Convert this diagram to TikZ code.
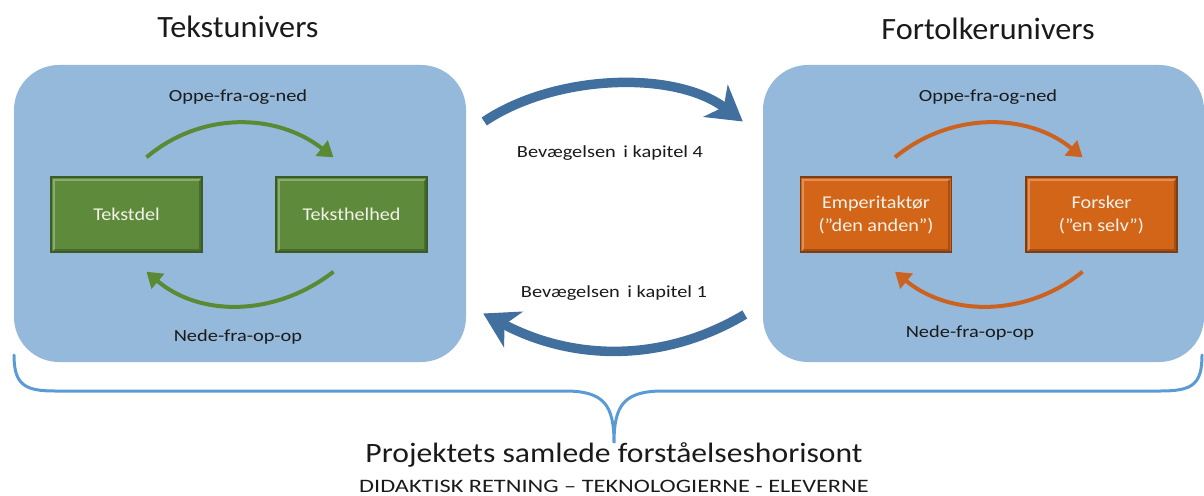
\documentclass[tikz,border=0pt]{standalone}
\usepackage{fontspec}
\setmainfont{Carlito}
\newfontfamily\titlefont{Carlito}[FakeStretch=1.04]
\newfontfamily\labelfont{Carlito}[FakeStretch=1.2]
\newfontfamily\boxfont{Carlito}[FakeStretch=1.12]
\newfontfamily\horizonfont{Carlito}[FakeStretch=1.13]
\newfontfamily\capsfont{Carlito}[FakeStretch=1.28]
\usetikzlibrary{arrows.meta}

\definecolor{panelblue}{HTML}{95B9DA}
\definecolor{leaf}{HTML}{5E8B3B}
\definecolor{leafedge}{HTML}{3C5C27}
\definecolor{leafarrow}{HTML}{5A8A34}
\definecolor{rust}{HTML}{D36518}
\definecolor{rustedge}{HTML}{7F3E12}
\definecolor{rustarrow}{HTML}{CC6220}
\definecolor{flowblue}{HTML}{41709F}
\definecolor{braceblue}{HTML}{5B9BD5}
\definecolor{boxtext}{HTML}{F2F2EA}
\definecolor{ink}{HTML}{1A1A1A}

\tikzset{
  panel/.style={rectangle, rounded corners=45pt, fill=panelblue, draw=none},
  bevel/.style={path picture={
    \draw[white, opacity=0.28, line width=2pt]
      ([shift={(2.5pt,2.5pt)}]path picture bounding box.south west)
      |- ([shift={(-2.5pt,-2.5pt)}]path picture bounding box.north east);
    \draw[black, opacity=0.22, line width=2pt]
      ([shift={(2.5pt,2.5pt)}]path picture bounding box.south west)
      -| ([shift={(-2.5pt,-2.5pt)}]path picture bounding box.north east);}},
  greenbox/.style={rectangle, fill=leaf, draw=leafedge, line width=1.4pt, bevel,
    minimum width=151pt, minimum height=75pt, text=boxtext,
    font=\boxfont\fontsize{18}{21}\selectfont},
  orangebox/.style={rectangle, fill=rust, draw=rustedge, line width=1.4pt, bevel,
    minimum width=151pt, minimum height=75pt, text=boxtext, align=center,
    font=\boxfont\fontsize{18}{23}\selectfont},
  title/.style={text=ink, font=\titlefont\fontsize{31}{34}\selectfont},
  label/.style={text=ink, font=\labelfont\fontsize{17}{20}\selectfont},
  greenflow/.style={draw=leafarrow, line width=4pt, -{Triangle[length=15pt,width=19pt]}},
  orangeflow/.style={draw=rustarrow, line width=4pt, -{Triangle[length=15pt,width=19pt]}},
  bigflow/.style={draw=flowblue, line width=9.5pt, -{Stealth[length=34pt,width=40pt,inset=10pt]}},
}

\begin{document}
\begin{tikzpicture}[x=1pt,y=-1pt]
\useasboundingbox (0,0) rectangle (1204,495);

% the two universes
\node[panel, minimum width=452pt, minimum height=297pt] (left) at (240,213.5) {};
\node[panel, minimum width=441pt, minimum height=297pt] (right) at (983.5,213.5) {};

\node[title] (lefttitle) at (238,27) {Tekstunivers};
\node[title] (righttitle) at (988,29) {Fortolkerunivers};

% text universe
\node[greenbox] (del) at (126.5,214.5) {Tekstdel};
\node[greenbox] (hel) at (351.5,214.5) {Teksthelhed};
\node[label] (ltop) at (238,97) {Oppe-fra-og-ned};
\node[label] (lbot) at (238,337) {Nede-fra-op-op};

\coordinate (delN) at ([shift={(20pt,19pt)}]del.north);
\coordinate (helN) at ([shift={(-18pt,19pt)}]hel.north);
\coordinate (delS) at ([shift={(20pt,-19pt)}]del.south);
\coordinate (helS) at ([shift={(-18pt,-19pt)}]hel.south);
\draw[greenflow] (delN) .. controls (200,112) and (275,112) .. (helN);
\draw[greenflow] (helS) .. controls (275,317) and (200,317) .. (delS);

% interpreter universe
\node[orangebox] (emp) at (876,214.5) {Emperitaktør\\(”den anden”)};
\node[orangebox] (fors) at (1101.5,214.5) {Forsker\\(”en selv”)};
\node[label] (rtop) at (988,97) {Oppe-fra-og-ned};
\node[label] (rbot) at (970,333) {Nede-fra-op-op};

\coordinate (empN) at ([shift={(19pt,19pt)}]emp.north);
\coordinate (forsN) at ([shift={(-19pt,19pt)}]fors.north);
\coordinate (empS) at ([shift={(19pt,-19pt)}]emp.south);
\coordinate (forsS) at ([shift={(-19pt,-19pt)}]fors.south);
\draw[orangeflow] (empN) .. controls (950,112) and (1027,112) .. (forsN);
\draw[orangeflow] (forsS) .. controls (1027,317) and (950,317) .. (empS);

% movement between the universes
\coordinate (upA) at ([shift={(18pt,92pt)}]left.east);
\coordinate (upB) at ([shift={(-20pt,92pt)}]right.west);
\coordinate (dnA) at ([shift={(-18pt,-101pt)}]right.west);
\coordinate (dnB) at ([shift={(17pt,-100pt)}]left.east);
\draw[bigflow] (upA) .. controls (555,74) and (675,70) .. (upB);
\draw[bigflow] (dnA) .. controls (665,362) and (575,362) .. (dnB);
\node[label] (ch4) at (610,153) {Bevægelsen\, i kapitel 4};
\node[label] (ch1) at (614,293) {Bevægelsen\, i kapitel 1};

% overall horizon brace
\draw[braceblue, line width=3pt, line cap=round]
  (14,355) .. controls (14,385) and (25,391) .. (55,391)
  -- (565,391) .. controls (604,391) and (614,405) .. (614,443)
  .. controls (614,405) and (624,391) .. (663,391)
  -- (1160,391) .. controls (1192,391) and (1202,385) .. (1202,355);

\node[text=ink, font=\horizonfont\fontsize{28}{30}\selectfont] (horizon) at (614,455)
  {Projektets samlede forståelseshorisont};
\node[text=ink, font=\capsfont\fontsize{19}{21}\selectfont] (axes) at (614,486)
  {DIDAKTISK RETNING – TEKNOLOGIERNE - ELEVERNE};
\end{tikzpicture}
\end{document}
